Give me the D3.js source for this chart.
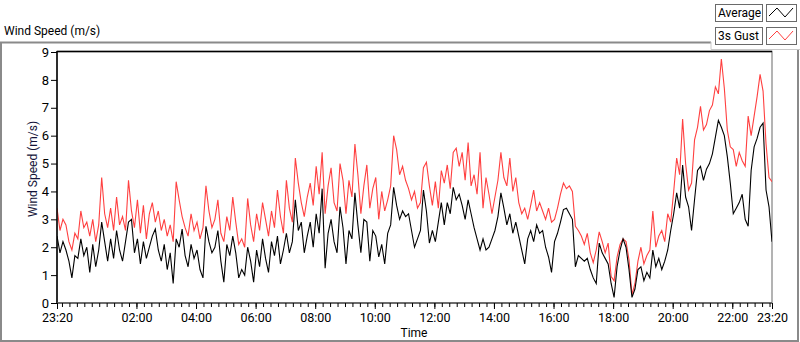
<!DOCTYPE html>
<html>
<head>
<meta charset="utf-8">
<title>Wind Speed (m/s)</title>
<script src="https://d3js.org/d3.v7.min.js"></script>
<style>
  body { margin: 0; background: #fff; }
  svg text { font-family: Roboto, "Liberation Sans", sans-serif; font-size: 12px; fill: #000; }
</style>
</head>
<body>
<svg id="chart" width="800" height="342"></svg>
<script>
// one sample every 6 minutes starting 23:20
var startTime = new Date(2000, 0, 1, 23, 20);
var sampleMinutes = 6;

var gust = [
  3.4, 2.6, 3.0, 2.8, 2.2, 1.9, 2.5, 2.3, 3.3, 2.7, 2.9, 2.4, 3.0, 2.2, 2.8, 4.5, 3.2, 2.7, 3.4, 2.6, 3.8,
  2.8, 3.1, 2.6, 4.4, 3.3, 2.7, 3.7, 2.5, 3.5, 2.3, 3.2, 3.6, 2.9, 3.3, 2.6, 3.0, 2.4, 2.8, 2.2, 4.35,
  3.7, 3.1, 2.7, 2.4, 3.2, 2.6, 2.9, 2.3, 2.7, 4.2, 3.3, 2.7, 3.0, 3.7, 2.5, 2.2, 3.1, 2.6, 3.8, 2.9, 2.1,
  2.3, 2.0, 3.75, 2.8, 2.2, 3.2, 2.6, 3.6, 3.0, 2.4, 3.3, 2.7, 4.05, 3.1, 2.5, 4.4, 3.4, 2.9,
  5.2, 4.3, 3.6, 3.1, 3.8, 4.3, 3.5, 4.9, 3.9, 5.4, 3.2, 4.2, 4.85, 3.6, 3.3, 5.0, 4.4, 3.2, 4.4, 3.8,
  5.7, 4.6, 3.2, 4.2, 4.95, 3.4, 4.1, 4.5, 3.0, 4.0, 3.3, 3.7, 4.2, 6.0, 5.5, 4.6, 4.9, 4.4, 4.1, 3.7, 4.0,
  3.4, 3.6, 4.85, 5.05, 4.2, 3.5, 4.35, 3.4, 4.75, 4.3, 4.95, 4.1, 5.4, 5.55, 4.9, 5.4, 4.4, 5.75, 4.2, 4.6,
  3.9, 5.4, 3.4, 4.5, 3.9, 3.2, 3.8, 4.4, 5.4, 4.5, 4.2, 5.2, 4.0, 4.5,
  3.6, 3.2, 3.4, 3.0, 3.5, 4.05, 3.3, 3.6, 3.3, 3.0, 3.4, 2.9, 3.0, 3.4, 3.9, 4.3, 4.1, 4.2, 4.0, 2.75,
  2.6, 2.4, 2.1, 2.5, 1.8, 1.45,
  1.9, 2.55, 2.2, 1.8, 2.15, 0.95, 0.8, 1.65, 2.1, 2.3, 2.2, 1.55, 0.3, 0.7, 1.5, 2.0, 1.4, 1.7, 1.9, 3.3,
  2.0, 2.4, 2.6, 2.2, 3.2, 2.9, 4.0, 5.2, 4.6, 6.6, 5.0, 4.05, 4.3, 5.85, 6.3, 7.05, 6.2, 6.4, 6.9, 7.1,
  7.75, 7.5, 8.75, 7.7, 6.2, 5.6, 5.5, 4.9, 5.4, 5.1, 4.9, 6.7, 6.0, 6.7, 7.4, 8.2, 7.6, 5.7, 4.5, 4.35
];

var average = [
  2.4, 1.8, 2.2, 1.9, 1.5, 0.9, 1.7, 1.6, 2.3, 1.7, 2.0, 1.1, 2.1, 1.3, 1.9, 2.9, 2.2, 1.5, 2.3, 1.6, 2.6,
  1.9, 1.5, 2.2, 2.9, 3.0, 1.8, 2.3, 1.4, 2.2, 1.6, 2.0, 2.4, 2.65, 1.9, 1.5, 2.1, 1.2, 1.8, 0.7, 2.3,
  2.0, 2.65, 1.7, 1.3, 2.1, 1.6, 1.9, 1.2, 0.9, 2.75, 2.2, 1.8, 2.0, 2.6, 1.5, 0.75, 2.1, 1.7, 2.4, 1.8, 0.9,
  1.2, 1.0, 2.0, 1.5, 0.75, 1.9, 1.3, 2.3, 1.6, 1.1, 2.2, 1.7, 2.4, 1.4, 1.9, 2.5, 1.8, 2.2,
  3.7, 2.6, 2.9, 1.8, 2.4, 2.9, 2.0, 3.2, 2.5, 4.1, 1.25, 2.5, 3.0, 2.2, 1.8, 3.45, 2.7, 1.4, 2.6, 2.3,
  3.95, 2.8, 1.8, 3.0, 2.9, 1.5, 2.6, 2.4, 1.65, 2.1, 1.4, 2.5, 2.8, 4.15, 3.5, 3.0, 3.3, 3.1, 3.2, 2.6, 2.0,
  2.3, 2.6, 4.05, 3.3, 2.15, 2.6, 2.2, 2.9, 3.6, 2.8, 3.6, 3.2, 4.15, 3.7, 3.9, 3.5, 3.0, 3.7, 3.2, 2.7,
  2.3, 1.9, 2.3, 1.9, 2.0, 2.3, 2.6, 3.1, 3.95, 3.4, 2.8, 3.2, 2.5, 2.9,
  2.4, 1.9, 1.4, 2.3, 2.6, 2.2, 2.8, 2.5, 2.6, 2.0, 1.65, 1.1, 2.2, 2.5, 2.9, 3.35, 3.4, 3.2, 3.0, 1.3,
  1.7, 1.6, 1.5, 1.6, 1.2, 0.9,
  0.7, 2.15, 1.8, 1.6, 1.4, 0.7, 0.2, 1.3, 1.9, 2.3, 2.0, 1.2, 0.2, 0.5, 1.2, 1.3, 0.8, 1.1, 0.9, 1.9,
  1.3, 1.6, 1.2, 1.5, 1.9, 2.6, 3.2, 3.95, 3.4, 4.95, 3.8, 3.45, 2.6, 3.7, 4.75, 4.9, 4.4, 4.8, 5.0, 5.35,
  5.95, 6.55, 6.3, 6.0, 5.25, 4.3, 3.2, 3.4, 3.6, 3.9, 3.0, 2.75, 4.75, 5.6, 5.9, 6.3, 6.45, 4.05, 3.45, 2.2
];

var seriesNames = ["Average", "3s Gust"];
var seriesColors = ["#000000", "#ff4040"];
var yTicks = [0, 1, 2, 3, 4, 5, 6, 7, 8, 9];
var xTickLabels = ["23:20", "02:00", "04:00", "06:00", "08:00", "10:00", "12:00",
                   "14:00", "16:00", "18:00", "20:00", "22:00", "23:20"];

// "top" is taken by window.top, so the plot box gets its own names
var plotL = 57, plotR = 772, plotT = 52, plotB = 303;
var endTime = d3.timeDay.offset(startTime, 1);

var svg = d3.select("#chart");

var x = d3.scaleTime().domain([startTime, endTime]).range([plotL, plotR]);
var y = d3.scaleLinear().domain([0, 9]).range([plotB, plotT]);

// outer frame
svg.append("path")
  .attr("d", "M1,342 L1,42.5 L711,42.5")
  .attr("fill", "none").attr("stroke", "#8a8a8a").attr("stroke-width", 2);
svg.append("path")
  .attr("d", "M798,50 L798,341 L1,341")
  .attr("fill", "none").attr("stroke", "#8a8a8a").attr("stroke-width", 2);
// legend panel edge
svg.append("path")
  .attr("d", "M711,42 L711,49.5 L800,49.5")
  .attr("fill", "none").attr("stroke", "#c8c8c8").attr("stroke-width", 1);

svg.append("text").attr("x", 4).attr("y", 35).text("Wind Speed (m/s)");

// plot area
svg.append("rect")
  .attr("x", plotL).attr("y", plotT - 0.5)
  .attr("width", plotR - plotL).attr("height", plotB - plotT + 0.5)
  .attr("fill", "#fff").attr("stroke", "#9a9a9a").attr("stroke-width", 1.5);
svg.append("line")
  .attr("x1", plotL).attr("x2", plotR).attr("y1", plotT - 0.5).attr("y2", plotT - 0.5)
  .attr("stroke", "#000").attr("stroke-width", 1.5);

svg.append("clipPath").attr("id", "clip")
  .append("rect").attr("x", plotL).attr("y", plotT).attr("width", plotR - plotL).attr("height", plotB - plotT);

function timeAt(i) { return d3.timeMinute.offset(startTime, i * sampleMinutes); }

var line = d3.line()
  .x(function(d, i) { return x(timeAt(i)); })
  .y(function(d) { return y(d); });

var plot = svg.append("g").attr("clip-path", "url(#clip)");
plot.append("path").datum(gust)
  .attr("d", line).attr("fill", "none")
  .attr("stroke", seriesColors[1]).attr("stroke-width", 1.1);
plot.append("path").datum(average)
  .attr("d", line).attr("fill", "none")
  .attr("stroke", seriesColors[0]).attr("stroke-width", 1.1);

// y axis
var yAxis = svg.append("g")
  .attr("transform", "translate(" + plotL + ",0)")
  .call(d3.axisLeft(y).tickValues(yTicks).tickSize(6).tickPadding(2).tickFormat(d3.format("d")));
yAxis.select(".domain").attr("stroke", "#000").attr("stroke-width", 1.5).attr("d", "M0," + (plotT - 1) + "V" + plotB);
yAxis.selectAll("text").style("font-size", "13px");

// x axis: minor ticks every 15 minutes, labels at the major times
var minorTimes = d3.timeMinute.every(15).range(startTime, endTime);
var xMinor = svg.append("g")
  .attr("transform", "translate(0," + plotB + ")")
  .call(d3.axisBottom(x).tickValues(minorTimes).tickSize(4).tickFormat(""));
xMinor.select(".domain").attr("stroke", "#555").attr("stroke-width", 1.5).attr("d", "M" + plotL + ",0H" + plotR);

var majorTimes = xTickLabels.map(function(s, i) {
  var p = s.split(":");
  var day = (i === 0) ? 1 : 2;
  return new Date(2000, 0, day, +p[0], +p[1]);
});
var xMajor = svg.append("g")
  .attr("transform", "translate(0," + plotB + ")")
  .call(d3.axisBottom(x).tickValues(majorTimes).tickSize(6).tickPadding(4)
    .tickFormat(function(d, i) { return xTickLabels[i]; }));
xMajor.select(".domain").remove();
xMajor.selectAll("text").style("font-size", "12.5px");

svg.append("text")
  .attr("x", 414).attr("y", 337).attr("text-anchor", "middle").text("Time");

svg.append("text")
  .attr("transform", "translate(37,169) rotate(-90)")
  .attr("text-anchor", "middle").style("fill", "#14143a").text("Wind Speed (m/s)");

// legend
var legend = svg.append("g");
seriesNames.forEach(function(name, i) {
  var ly = 4 + i * 23;
  legend.append("rect").attr("x", 715.5).attr("y", ly + 0.5).attr("width", 47).attr("height", 17)
    .attr("fill", "#fff").attr("stroke", "#6a6a6a");
  legend.append("text").attr("x", 718).attr("y", ly + 13).text(name);
  legend.append("rect").attr("x", 766.5).attr("y", ly + 0.5).attr("width", 30).attr("height", 17)
    .attr("fill", "#fff").attr("stroke", "#6a6a6a");
  legend.append("polyline")
    .attr("points", [[769, ly + 12], [777, ly + 4], [785, ly + 13], [793, ly + 4]].join(" "))
    .attr("fill", "none").attr("stroke", seriesColors[i]).attr("stroke-width", 1);
});
</script>
</body>
</html>
